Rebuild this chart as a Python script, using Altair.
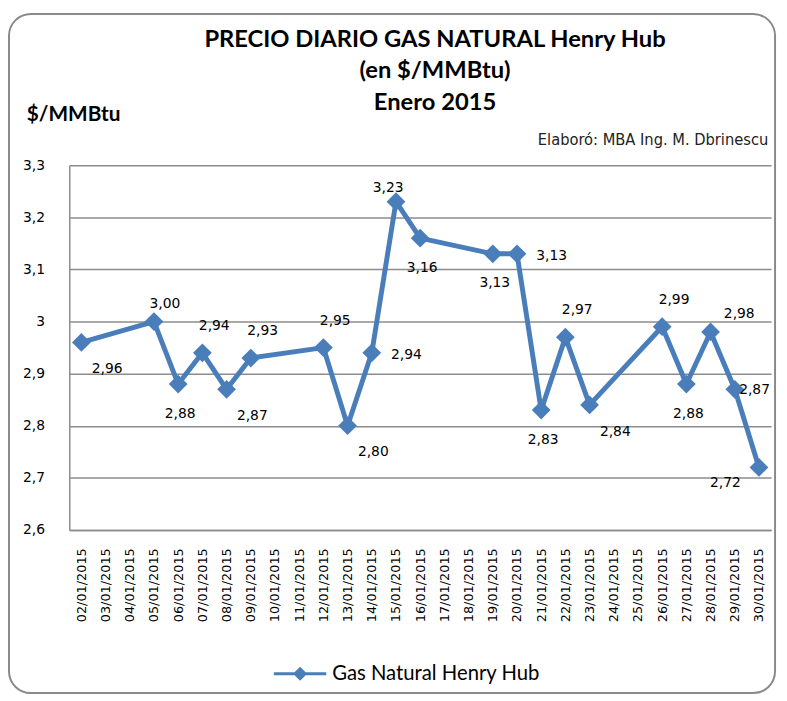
import altair as alt
import pandas as pd

# ---- data ----
day_labels = ["02/01/2015", "03/01/2015", "04/01/2015", "05/01/2015", "06/01/2015",
              "07/01/2015", "08/01/2015", "09/01/2015", "10/01/2015", "11/01/2015",
              "12/01/2015", "13/01/2015", "14/01/2015", "15/01/2015", "16/01/2015",
              "17/01/2015", "18/01/2015", "19/01/2015", "20/01/2015", "21/01/2015",
              "22/01/2015", "23/01/2015", "24/01/2015", "25/01/2015", "26/01/2015",
              "27/01/2015", "28/01/2015", "29/01/2015", "30/01/2015"]

trade_days = ["02/01/2015", "05/01/2015", "06/01/2015", "07/01/2015", "08/01/2015",
              "09/01/2015", "12/01/2015", "13/01/2015", "14/01/2015", "15/01/2015",
              "16/01/2015", "19/01/2015", "20/01/2015", "21/01/2015", "22/01/2015",
              "23/01/2015", "26/01/2015", "27/01/2015", "28/01/2015", "29/01/2015",
              "30/01/2015"]

prices = [2.96, 3.00, 2.88, 2.94, 2.87, 2.93, 2.95, 2.80, 2.94, 3.23,
          3.16, 3.13, 3.13, 2.83, 2.97, 2.84, 2.99, 2.88, 2.98, 2.87, 2.72]

label_place = ["below_right", "top", "below", "above", "below_right",
               "above", "above", "below_right", "right", "above_left",
               "below", "below", "right", "below", "above",
               "below_right", "above", "below", "top_right", "right_near",
               "below_left"]

y_ticks = [2.6, 2.7, 2.8, 2.9, 3.0, 3.1, 3.2, 3.3]
series_name = "Gas Natural Henry Hub"
title_lines = "PRECIO DIARIO GAS NATURAL Henry Hub\n(en $/MMBtu)\nEnero 2015"
y_title = "$/MMBtu"
credit = "Elaboró: MBA Ing. M. Dbrinescu"

# ---- styles ----
BLUE = "#4a7ebb"
GRID = "#8c8c8c"
placements = {
    "below_right": (26, 27),
    "top": (11, -18),
    "below": (2, 30),
    "above": (12, -27),
    "right": (35, 2),
    "above_left": (-8, -14),
    "top_right": (29, -18),
    "right_near": (20, 1),
    "below_left": (-34, 16),
}

df = pd.DataFrame({"day": trade_days, "price": prices, "place": label_place})
df["label"] = [f"{p:.2f}".replace(".", ",") for p in prices]
df["series"] = series_name

x_enc = alt.X(
    "day:O",
    scale=alt.Scale(domain=day_labels, padding=0.5),
    axis=alt.Axis(title=None, labelAngle=270, ticks=False, grid=False,
                  labelFont="DejaVu Sans", labelFontSize=13, labelColor="#000000",
                  labelPadding=18, domainColor=GRID, domainWidth=1.5,
                  labelOverlap=False),
)
y_enc = alt.Y(
    "price:Q",
    scale=alt.Scale(domain=[2.6, 3.3], nice=False, zero=False),
    axis=alt.Axis(title=None, values=y_ticks, ticks=False,
                  labelExpr="replace(format(datum.value, '.2~f'), '.', ',')",
                  labelFont="DejaVu Sans", labelFontSize=14, labelColor="#000000",
                  labelPadding=25, domainColor=GRID, domainWidth=1.5,
                  grid=True, gridColor=GRID, gridWidth=1.5),
)

single = alt.Data(values=[{}])

frame = alt.Chart(single).mark_rect(
    fill="white", fillOpacity=0, stroke="#8a8a8a", strokeWidth=2, cornerRadius=22
).encode(x=alt.value(-61), x2=alt.value(714), y=alt.value(-153), y2=alt.value(534))

base = alt.Chart(df)

line = base.mark_line(color=BLUE, strokeWidth=5, strokeJoin="round").encode(x=x_enc, y=y_enc)

legend_path = ("M-1,-0.06L1,-0.06L1,0.06L-1,0.06Z "
               "M0,-0.27L0.27,0L0,0.27L-0.27,0Z")
pts = base.mark_point(shape="diamond", filled=True, size=360, opacity=1).encode(
    x="day:O",
    y="price:Q",
    color=alt.Color("series:N", scale=alt.Scale(range=[BLUE]),
                    legend=alt.Legend(title=None, orient="none", legendX=207, legendY=488,
                                      symbolType=legend_path, symbolSize=2809,
                                      symbolStrokeWidth=0, padding=0, labelLimit=400,
                                      labelFont="Lato", labelFontSize=20.5,
                                      labelColor="#000000", labelOffset=6)),
)

label_layers = []
for name, (dx, dy) in placements.items():
    label_layers.append(
        base.transform_filter(alt.datum.place == name)
        .mark_text(dx=dx, dy=dy, font="DejaVu Sans", fontSize=14, color="#000000",
                   align="center", baseline="middle")
        .encode(x="day:O", y="price:Q", text="label:N")
    )

title = alt.Chart(single).mark_text(
    font="Lato", fontSize=24, fontWeight="bold", color="#000000",
    align="center", baseline="alphabetic", lineBreak="\n", lineHeight=32
).encode(x=alt.value(370), y=alt.value(-120), text=alt.value(title_lines))

ytitle = alt.Chart(single).mark_text(
    font="Lato", fontSize=21, fontWeight="bold", color="#000000",
    align="left", baseline="middle"
).encode(x=alt.value(-43), y=alt.value(-51), text=alt.value(y_title))

credit_txt = alt.Chart(single).mark_text(
    font="Liberation Sans Narrow, DejaVu Sans Condensed, Roboto Condensed, Liberation Sans",
    fontSize=16.5, color="#222222",
    align="left", baseline="middle"
).encode(x=alt.value(474), y=alt.value(-25), text=alt.value(credit))

chart = alt.layer(frame, line, pts, *label_layers, title, ytitle, credit_txt).properties(
    width=710, height=369,
    autosize=alt.AutoSizeParams(type="none"),
    padding={"left": 62, "top": 155, "right": 8, "bottom": 170},
    background="white",
).configure_view(stroke=None)

chart.save("out.html", embed_options={"renderer": "svg", "actions": False})
